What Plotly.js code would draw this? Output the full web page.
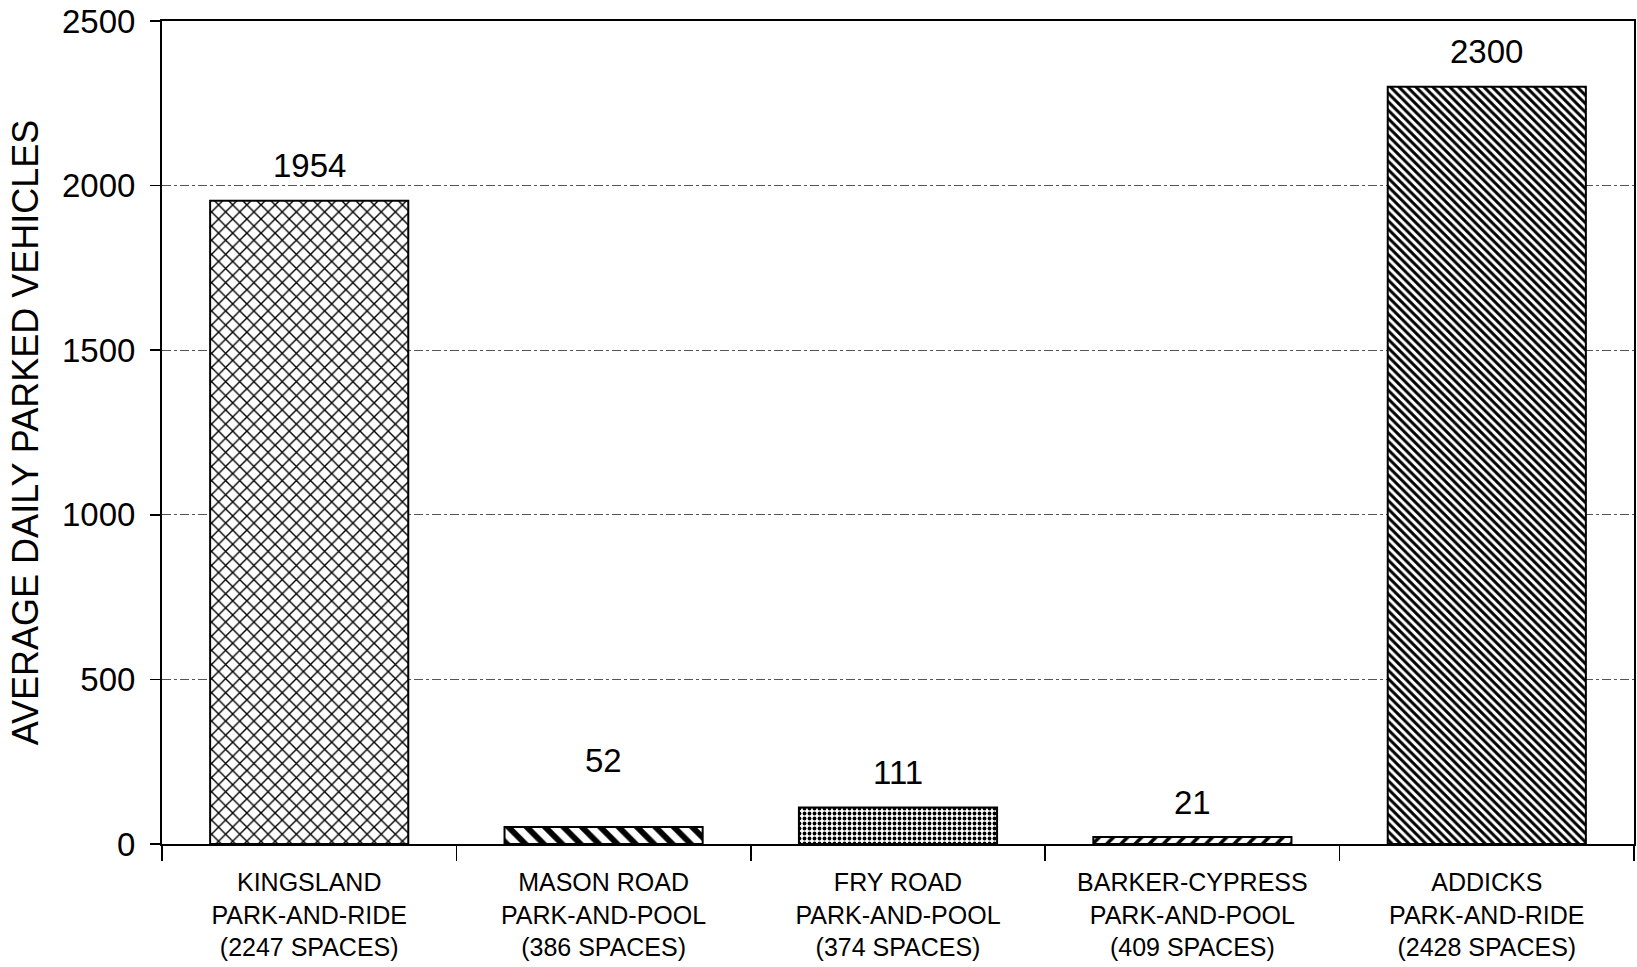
<!DOCTYPE html>
<html>
<head>
<meta charset="utf-8">
<script src="https://cdn.plot.ly/plotly-3.0.1.min.js"></script>
<style>html,body{margin:0;padding:0;background:#fff;}#chart{width:1637px;height:967px;}</style>
</head>
<body>
<div id="chart"></div>
<script>
const categories = [
  "KINGSLAND<br>PARK-AND-RIDE<br>(2247 SPACES)",
  "MASON ROAD<br>PARK-AND-POOL<br>(386 SPACES)",
  "FRY ROAD<br>PARK-AND-POOL<br>(374 SPACES)",
  "BARKER-CYPRESS<br>PARK-AND-POOL<br>(409 SPACES)",
  "ADDICKS<br>PARK-AND-RIDE<br>(2428 SPACES)"
];
const parkedVehicles = [1954, 52, 111, 21, 2300];
const yTickValues = [0, 500, 1000, 1500, 2000, 2500];
const yTitle = "AVERAGE DAILY PARKED VEHICLES";

const patternShapes = ["x", "\\", ".", "/", "\\"];
const patternSizes = [10, 13, 5, 10, 6];
const patternSolidity = [0.26, 0.45, 0.45, 0.35, 0.5];

const FONT = "Liberation Sans, Arial, Helvetica, sans-serif";

const trace = {
  type: "bar",
  x: categories,
  y: parkedVehicles,
  marker: {
    color: "#ffffff",
    line: {color: "#000000", width: 2},
    pattern: {
      shape: patternShapes,
      size: patternSizes,
      solidity: patternSolidity,
      fgcolor: "#000000",
      bgcolor: "#ffffff"
    }
  },
  hoverinfo: "none"
};

const annotations = parkedVehicles.map((v, i) => ({
  x: categories[i],
  y: v,
  xref: "x",
  yref: "y",
  text: String(v),
  showarrow: false,
  yanchor: "middle",
  yshift: i === 1 ? 66 : 35,
  font: {family: FONT, size: 33, color: "#000"}
}));

const layout = {
  width: 1637,
  height: 967,
  margin: {l: 162, r: 3, t: 21, b: 123},
  paper_bgcolor: "#ffffff",
  plot_bgcolor: "#ffffff",
  showlegend: false,
  bargap: 0.327,
  xaxis: {
    type: "category",
    showline: true,
    linecolor: "#000",
    linewidth: 2,
    mirror: true,
    ticks: "outside",
    tickson: "boundaries",
    ticklen: 15,
    tickwidth: 1.5,
    tickcolor: "#000",
    showgrid: false,
    tickfont: {family: FONT, size: 25, color: "#000"},
    ticklabelstandoff: 15
  },
  yaxis: {
    range: [0, 2500],
    tickvals: yTickValues,
    ticktext: yTickValues.map(String),
    showline: true,
    linecolor: "#000",
    linewidth: 2,
    mirror: true,
    ticks: "outside",
    ticklen: 10,
    tickwidth: 1.5,
    tickcolor: "#000",
    showgrid: true,
    gridcolor: "#555",
    gridwidth: 1,
    griddash: "dashdot",
    zeroline: false,
    tickfont: {family: FONT, size: 33, color: "#000"},
    ticklabelstandoff: 8,
    title: {text: yTitle, font: {family: FONT, size: 36, color: "#000"}, standoff: 12}
  },
  annotations: annotations
};

Plotly.newPlot("chart", [trace], layout, {staticPlot: true, displayModeBar: false});
</script>
</body>
</html>
